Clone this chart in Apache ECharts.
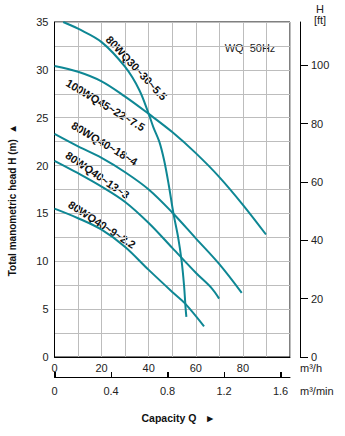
<!DOCTYPE html>
<html><head><meta charset="utf-8">
<script src="https://cdn.jsdelivr.net/npm/echarts@6/dist/echarts.min.js"></script>
<style>html,body{margin:0;padding:0;background:#fff}#c{width:345px;height:436px}</style>
</head><body><div id="c"></div>
<script>
// ---- data ----
const seriesNames = ['80WQ30~30~5.5', '100WQ45~22~7.5', '80WQ40~18~4', '80WQ40~13~3', '80WQ40~9~2.2'];
const q1 = [3.7, 10, 20, 30, 36, 40, 42, 44.5, 46.5, 48.5, 50.5, 52.5, 54, 55, 55.7, 56];
const h1 = [35, 34.3, 32.9, 30.3, 27.9, 25.4, 24, 22.5, 20.6, 18, 15, 12.5, 10, 7.5, 5, 4.2];
const q2 = [0, 10, 20, 30, 40, 50, 60, 70, 80, 89.8];
const h2 = [30.4, 29.8, 28.8, 27.2, 25.4, 23.5, 21.3, 18.8, 15.9, 12.8];
const q3 = [0, 10, 20, 30, 40, 50, 60, 70, 79.5];
const h3 = [23.3, 22.0, 20.8, 19.3, 17.5, 15.1, 12.4, 9.7, 6.7];
const q4 = [0, 10, 20, 30, 40, 50, 60, 66.7, 69.9];
const h4 = [20.5, 19.2, 17.8, 16.2, 14.0, 11.4, 8.8, 7.2, 6.1];
const q5 = [0, 10, 20, 30, 40, 50, 55.4, 63.5];
const h5 = [15.5, 14.5, 13.3, 11.5, 9.1, 6.8, 5.6, 3.2];
const flowTicks = [0, 20, 40, 60, 80];          // m3/h labels
const flowMinTicks = [0, 0.4, 0.8, 1.2, 1.6];   // m3/min labels
const headTicks = [0, 5, 10, 15, 20, 25, 30, 35]; // m labels
const ftTicks = [0, 20, 40, 60, 80, 100];       // ft labels

// ---- chart ----
const teal = '#0e8794';
const qs = [q1, q2, q3, q4, q5], hs = [h1, h2, h3, h4, h5];
const series = seriesNames.map((n, i) => ({
  name: n, type: 'line', xAxisIndex: 0, yAxisIndex: 0, smooth: 0.35, showSymbol: false,
  lineStyle: {color: teal, width: 2}, silent: true,
  data: qs[i].map((q, j) => [q, hs[i][j]])
}));
const lbl = {fontFamily: 'Liberation Sans, Arial', fontSize: 11, fill: '#222'};
const curveLabels = [
  {t: seriesNames[0], x: 136.5, y: 68, r: 47},
  {t: seriesNames[1], x: 105.5, y: 105, r: 31},
  {t: seriesNames[2], x: 104.5, y: 143.5, r: 31},
  {t: seriesNames[3], x: 97.5, y: 175, r: 34.5},
  {t: seriesNames[4], x: 102, y: 224.5, r: 33}
];
const chart = echarts.init(document.getElementById('c'), null, {renderer: 'svg'});
const axisTxt = {fontFamily: 'Liberation Sans, Arial', fontSize: 11, color: '#222'};
const G = {left: 54.5, top: 22, width: 235.5, height: 335};
const minAxisY = 377.5;
const minMax = 100 / 60; // m3/min axis maximum (= 100 m3/h)
const minPx = v => G.left + v / minMax * G.width;
const axisMarks = [{type: 'polyline', z: 100, silent: true,
    shape: {points: [[G.left, minAxisY], [G.left + G.width, minAxisY]]}, style: {stroke: '#000', lineWidth: 1, fill: null}}]
  .concat(flowMinTicks.map(t => ({type: 'polyline', z: 100, silent: true,
    shape: {points: [[Math.round(minPx(t)) + 0.5, minAxisY], [Math.round(minPx(t)) + 0.5, minAxisY - 5.5]]},
    style: {stroke: '#000', lineWidth: 1, fill: null}})));
const graphics = [
  ...curveLabels.map(c => ({type: 'text', x: c.x, y: c.y, rotation: -c.r * Math.PI / 180, silent: true,
    style: Object.assign({}, lbl, {text: c.t, fontWeight: 'bold', fill: '#111', align: 'center', verticalAlign: 'middle'})})),
  {type: 'text', x: 250, y: 48, style: Object.assign({}, lbl, {text: 'WQ  50Hz', align: 'center', verticalAlign: 'middle', fontSize: 11})},
  {type: 'text', x: 320, y: 9, style: Object.assign({}, lbl, {text: 'H', align: 'center', verticalAlign: 'middle', fontSize: 11})},
  {type: 'text', x: 320, y: 19.5, style: Object.assign({}, lbl, {text: '[ft]', align: 'center', verticalAlign: 'middle', fontSize: 11})},
  {type: 'text', x: 300, y: 367.5, style: Object.assign({}, lbl, {text: 'm³/h', align: 'left', verticalAlign: 'middle', fontSize: 11})},
  {type: 'text', x: 300, y: 391, style: Object.assign({}, lbl, {text: 'm³/min', align: 'left', verticalAlign: 'middle', fontSize: 11})},
  {type: 'text', x: 178.5, y: 418, style: Object.assign({}, lbl, {text: 'Capacity Q   ►', align: 'center', verticalAlign: 'middle', fontSize: 10.5, fontWeight: 'bold', fill: '#111'})},
  {type: 'text', x: 12, y: 200, rotation: Math.PI / 2, style: Object.assign({}, lbl, {text: 'Total manometric head H (m)  ▲', align: 'center', verticalAlign: 'middle', fontSize: 10, fontWeight: 'bold', fill: '#111'})}
].concat(axisMarks);
chart.setOption({
  animation: false,
  grid: [
    Object.assign({show: true, borderColor: '#000', borderWidth: 1, backgroundColor: 'transparent'}, G)
  ],
  xAxis: [{
    type: 'value', min: 0, max: 100, interval: 10, position: 'bottom',
    axisLine: {onZero: false, lineStyle: {color: '#000', width: 1}}, axisTick: {show: false},
    splitLine: {lineStyle: {color: '#bdbdbd', width: 1}},
    axisLabel: Object.assign({margin: 5, showMaxLabel: false, formatter: v => flowTicks.includes(v) ? String(v) : ''}, axisTxt)
  }, {
    type: 'value', min: 0, max: minMax, interval: 0.4, position: 'bottom', offset: 20,
    axisLine: {show: true, onZero: false, lineStyle: {color: '#000', width: 1}},
    axisTick: {show: true, inside: true, length: 5, lineStyle: {color: '#000'}},
    splitLine: {show: false},
    axisLabel: Object.assign({margin: 8, showMaxLabel: false, formatter: v => {
      const f = flowMinTicks.find(t => Math.abs(t - v) < 1e-6); return f === undefined ? '' : (f === 0 ? '0' : f.toFixed(1)); }}, axisTxt)
  }],
  yAxis: [{
    type: 'value', min: 0, max: 35, interval: 2.5, position: 'left',
    axisLine: {show: true, onZero: false, lineStyle: {color: '#000', width: 1}}, axisTick: {show: false},
    splitLine: {lineStyle: {color: '#bdbdbd', width: 1}},
    axisLabel: Object.assign({margin: 6, formatter: v => headTicks.includes(v) ? String(v) : ''}, axisTxt)
  }, {
    type: 'value', min: 0, max: 35 / 0.3048, interval: 20, position: 'right', offset: 10,
    axisLine: {show: true, onZero: false, lineStyle: {color: '#000', width: 1}},
    axisTick: {show: true, length: 8, lineStyle: {color: '#000'}},
    splitLine: {show: false},
    axisLabel: Object.assign({margin: 11, showMaxLabel: false, formatter: v => ftTicks.includes(v) ? String(v) : ''}, axisTxt)
  }],
  series: series,
  graphic: graphics
});
</script></body></html>
